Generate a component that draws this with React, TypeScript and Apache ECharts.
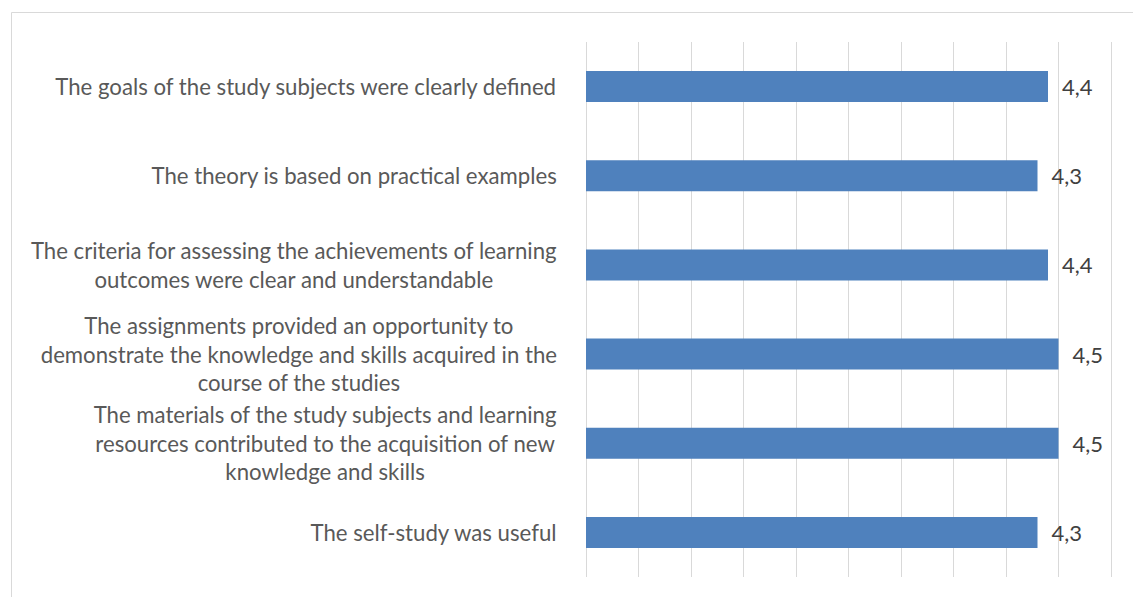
import React, { useEffect, useRef } from "react";
import * as echarts from "echarts";

const categories: string[] = [
  "The goals of the study subjects were clearly defined",
  "The theory is based on practical examples",
  "The criteria for assessing the achievements of learning\noutcomes were clear and understandable",
  "The assignments provided an opportunity to\ndemonstrate the knowledge and skills acquired in the\ncourse of the studies",
  "The materials of the study subjects and learning\nresources contributed to the acquisition of new\nknowledge and skills",
  "The self-study was useful",
];

const values: number[] = [4.4, 4.3, 4.4, 4.5, 4.5, 4.3];

const FONT = "Lato";

export default function App() {
  const ref = useRef<HTMLDivElement>(null);
  useEffect(() => {
    if (!ref.current) return;
    const chart = echarts.init(ref.current, undefined, { renderer: "svg" });
    chart.setOption({
      animation: false,
      backgroundColor: "#ffffff",
      graphic: [
        {
          type: "rect",
          shape: { x: 11.5, y: 12.5, width: 1140, height: 600 },
          style: { fill: "none", stroke: "#d9d9d9", lineWidth: 1 },
          silent: true,
        },
      ],
      grid: { left: 586, right: 22, top: 42, bottom: 20, containLabel: false },
      xAxis: {
        type: "value",
        min: 0,
        max: 5,
        interval: 0.5,
        axisLabel: { show: false },
        axisLine: { show: false },
        axisTick: { show: false },
        splitLine: { show: true, lineStyle: { color: "#d9d9d9", width: 1 } },
      },
      yAxis: {
        type: "category",
        inverse: true,
        data: categories,
        axisLine: { show: false },
        axisTick: { show: false },
        axisLabel: {
          margin: 29,
          align: "right",
          formatter: (v: string) =>
            v
              .split("\n")
              .map((l) => `{c|${l}}`)
              .join("\n"),
          rich: {
            c: {
              align: "center",
              fontFamily: FONT,
              fontSize: 22.2,
              lineHeight: 28.5,
              color: "#595959",
            },
          },
        },
      },
      series: [
        {
          type: "bar",
          data: values,
          barWidth: 31,
          itemStyle: { color: "#4F81BD" },
          label: {
            show: true,
            position: "right",
            distance: 14,
            fontFamily: FONT,
            fontSize: 22,
            color: "#404040",
            formatter: (p: any) => Number(p.value).toFixed(1).replace(".", ","),
          },
        },
      ],
    });
    return () => chart.dispose();
  }, []);
  return (
    <div
      ref={ref}
      style={{ position: "fixed", left: 0, top: 0, width: 1133, height: 597 }}
    />
  );
}
